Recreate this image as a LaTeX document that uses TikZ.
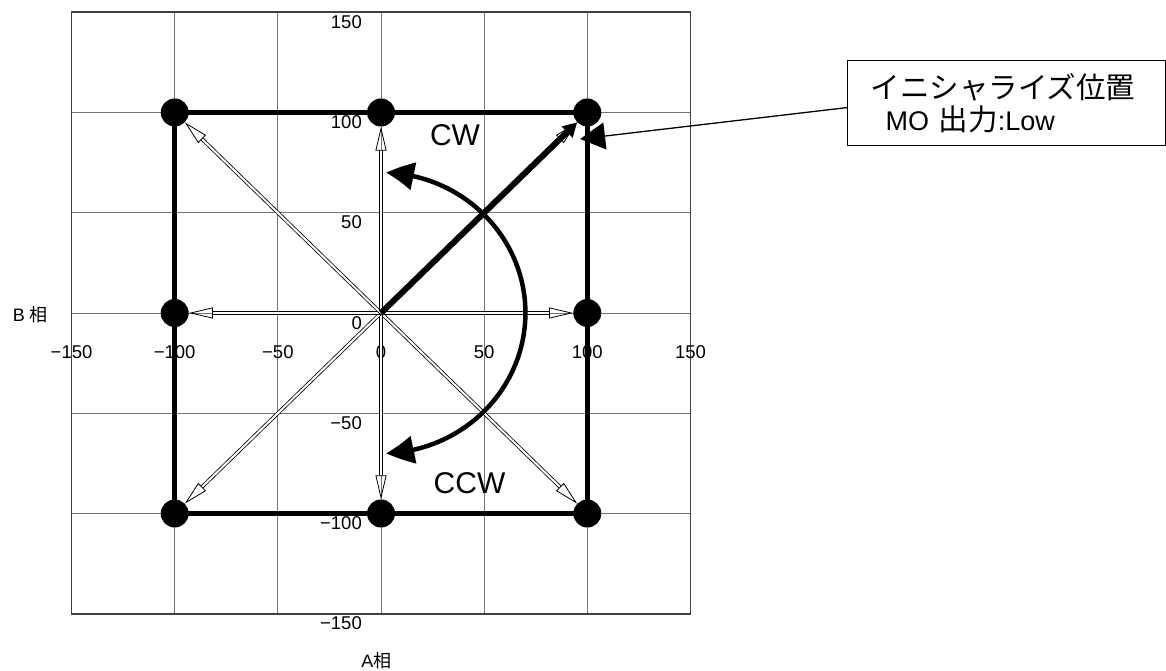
\documentclass[tikz,border=0pt]{standalone}
\usepackage{fontspec}
\setmainfont{Liberation Sans}
\newfontfamily\jp{Noto Sans CJK JP}
\usetikzlibrary{arrows.meta,bending}

\tikzset{
  gridline/.style={black!55, line width=0.8pt},
  frameline/.style={black!75, line width=1.8pt},
  dot/.style={circle, fill=black, inner sep=0pt, minimum size=28pt},
  vec/.style={double, double distance=2pt, line width=0.8pt,
    -{Triangle[open, length=24pt, width=11pt]}},
  ticklbl/.style={inner sep=0pt, font=\fontsize{18.5}{20}\selectfont},
  phaselbl/.style={inner sep=0pt, anchor=base, font=\fontsize{18}{20}\selectfont},
  dirlbl/.style={inner sep=0pt, anchor=base, font=\fontsize{30}{34}\selectfont},
}

\begin{document}
\begin{tikzpicture}[x=1pt,y=1pt]
  \useasboundingbox (0,0) rectangle (1166,671);
  \begin{scope}[shift={(381,358)}, x=2.063pt, y=2.005pt]
    % grid and frame
    \foreach \v in {-100,-50,0,50,100} {
      \draw[gridline] (\v,-150) -- (\v,150);
      \draw[gridline] (-150,\v) -- (150,\v);
    }
    \draw[frameline] (-150,-150) rectangle (150,150);
    % scale numbers
    \foreach \v/\t in {-150/−150,-100/−100,-50/−50,0/0,50/50,100/100,150/150} {
      \node[ticklbl, anchor=north east, xshift=-19pt, yshift=-3pt] (ly\v) at (0,\v) {\t};
      \node[ticklbl, anchor=north, yshift=-32pt] (lx\v) at (\v,0) {\t};
    }
    \node[phaselbl] (bphase) at (-170,-4.3) {B {\jp 相}};
    \node[phaselbl] (aphase) at (-2.2,-176.6) {A{\jp 相}};
    % positions
    \coordinate (O) at (0,0);
    \node[dot] (pN)  at (0,100) {};
    \node[dot] (pNE) at (100,100) {};
    \node[dot] (pE)  at (100,0) {};
    \node[dot] (pSE) at (100,-100) {};
    \node[dot] (pS)  at (0,-100) {};
    \node[dot] (pSW) at (-100,-100) {};
    \node[dot] (pW)  at (-100,0) {};
    \node[dot] (pNW) at (-100,100) {};
    \draw[line width=5pt] (pNW.center) -- (pNE.center) -- (pSE.center) -- (pSW.center) -- cycle;
    \foreach \p in {pN,pE,pSE,pS,pSW,pW,pNW,pNE}
      \draw[vec] (O) -- (\p);
    \draw[line width=6pt, -{Triangle[length=14pt, width=15pt]}] (O) -- (pNE);
    % rotation
    \draw[line width=4.5pt, {Triangle[bend, length=28pt, width=27pt]}-{Triangle[bend, length=28pt, width=27pt]}]
      (88:70) arc (88:-88:70);
    \node[dirlbl] (cw) at (35.9,83.3) {CW};
    \node[dirlbl] (ccw) at (42.9,-89.8) {CCW};
    \coordinate (initTip) at (96.5,86.8);
  \end{scope}
  % note
  \node[draw, line width=1.2pt, anchor=north west, minimum height=85pt, inner xsep=23pt,
    text width=272pt, align=left, font=\jp\fontsize{29.5}{32}\selectfont]
    (callout) at (847,611)
    {イニシャライズ位置\\\hspace*{15pt}{\rmfamily\fontsize{27}{32}\selectfont MO }出力{\rmfamily\fontsize{27}{32}\selectfont :Low}};
  \draw[line width=1.3pt, -{Triangle[length=25pt, width=27pt]}] ([yshift=-4.5pt]callout.west) -- (initTip);
\end{tikzpicture}
\end{document}
